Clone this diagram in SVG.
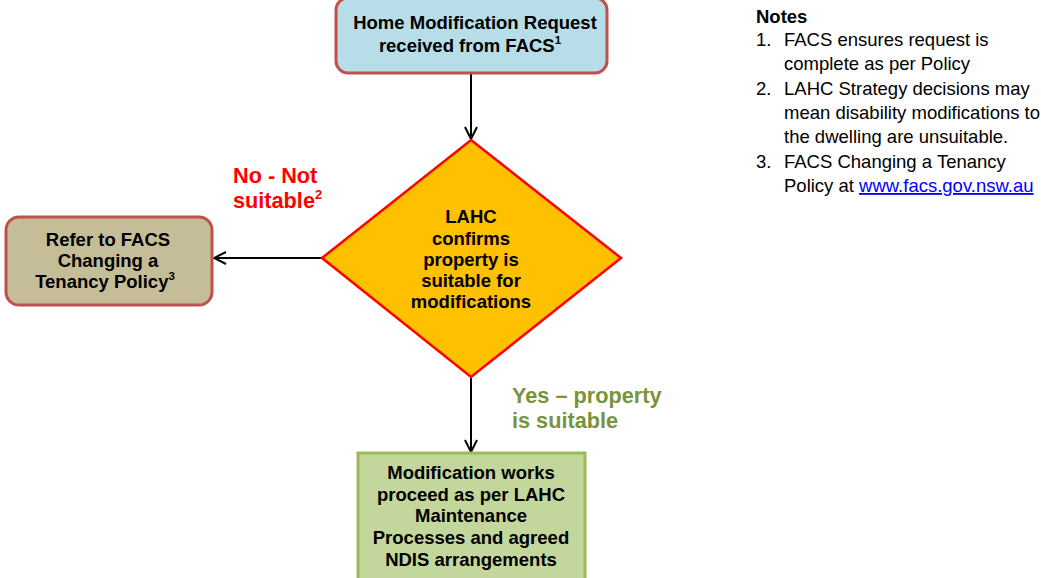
<svg xmlns="http://www.w3.org/2000/svg" width="1041" height="578" viewBox="0 0 1041 578">
<style>
.bg{fill:#ffffff}
.t{font-family:"Liberation Sans",Arial,sans-serif;font-weight:bold;font-size:18.5px;fill:#000000;text-anchor:middle}
.lbl{font-family:"Liberation Sans",Arial,sans-serif;font-weight:bold;font-size:21.7px}
.n{font-family:"Liberation Sans",Arial,sans-serif;font-size:18.5px;fill:#000000}
.edge{fill:none;stroke:#000000;stroke-width:2}
.sup{font-size:11.5px}
</style>
<defs>
<marker id="arr" viewBox="0 0 14 14" refX="13" refY="7" markerWidth="14" markerHeight="14" markerUnits="userSpaceOnUse" orient="auto">
<path d="M1,1 L13,7 L1,13" fill="none" stroke="#000" stroke-width="2"/>
</marker>
</defs>
<rect class="bg" x="0" y="0" width="1041" height="578"/>
<g id="connectors">
<line class="edge" x1="471" y1="74" x2="471" y2="139" marker-end="url(#arr)"/>
<line class="edge" x1="322" y1="258" x2="214" y2="258" marker-end="url(#arr)"/>
<line class="edge" x1="471" y1="378" x2="471" y2="452" marker-end="url(#arr)"/>
</g>
<g id="node-request">
<rect x="336" y="-2" width="271" height="75" rx="12" fill="#b7dde8" stroke="#c0504d" stroke-width="3"/>
<text class="t" x="475" y="29">Home Modification Request</text>
<text class="t" x="470" y="52">received from FACS<tspan class="sup" dy="-8">1</tspan></text>
</g>
<g id="node-decision">
<polygon points="471,140 621,258 471,377 322,258" fill="#ffc000" stroke="#ff0000" stroke-width="2.5"/>
<text class="t" x="471" y="223">LAHC</text>
<text class="t" x="471" y="245">confirms</text>
<text class="t" x="471" y="266">property is</text>
<text class="t" x="471" y="287">suitable for</text>
<text class="t" x="471" y="308">modifications</text>
</g>
<g id="node-refer">
<rect x="6" y="217" width="206" height="88" rx="13" fill="#c4bd97" stroke="#c0504d" stroke-width="3"/>
<text class="t" x="108" y="246">Refer to FACS</text>
<text class="t" x="108" y="267">Changing a</text>
<text class="t" x="105" y="288">Tenancy Policy<tspan class="sup" dy="-8">3</tspan></text>
</g>
<g id="node-works">
<rect x="358" y="453" width="227" height="130" fill="#c3d69b" stroke="#9bbb59" stroke-width="3"/>
<text class="t" x="471" y="479">Modification works</text>
<text class="t" x="471" y="501">proceed as per LAHC</text>
<text class="t" x="471" y="522">Maintenance</text>
<text class="t" x="471" y="544">Processes and agreed</text>
<text class="t" x="471" y="566">NDIS arrangements</text>
</g>
<g id="label-no">
<text class="lbl" x="233" y="183" fill="#ff0000">No - Not</text>
<text class="lbl" x="233" y="208" fill="#ff0000">suitable<tspan dy="-9" font-size="13">2</tspan></text>
</g>
<g id="label-yes">
<text class="lbl" x="512" y="403" fill="#77933c">Yes – property</text>
<text class="lbl" x="512" y="428" fill="#77933c">is suitable</text>
</g>
<g id="notes">
<text class="n" x="756" y="23" font-weight="bold">Notes</text>
<text class="n" x="756" y="46">1.</text>
<text class="n" x="784" y="46">FACS ensures request is</text>
<text class="n" x="784" y="70">complete as per Policy</text>
<text class="n" x="756" y="95">2.</text>
<text class="n" x="784" y="95">LAHC Strategy decisions may</text>
<text class="n" x="784" y="119">mean disability modifications to</text>
<text class="n" x="784" y="143">the dwelling are unsuitable.</text>
<text class="n" x="756" y="168">3.</text>
<text class="n" x="784" y="168">FACS Changing a Tenancy</text>
<text class="n" x="784" y="192">Policy at <tspan fill="#0000ff" text-decoration="underline">www.facs.gov.nsw.au</tspan></text>
</g>
</svg>
